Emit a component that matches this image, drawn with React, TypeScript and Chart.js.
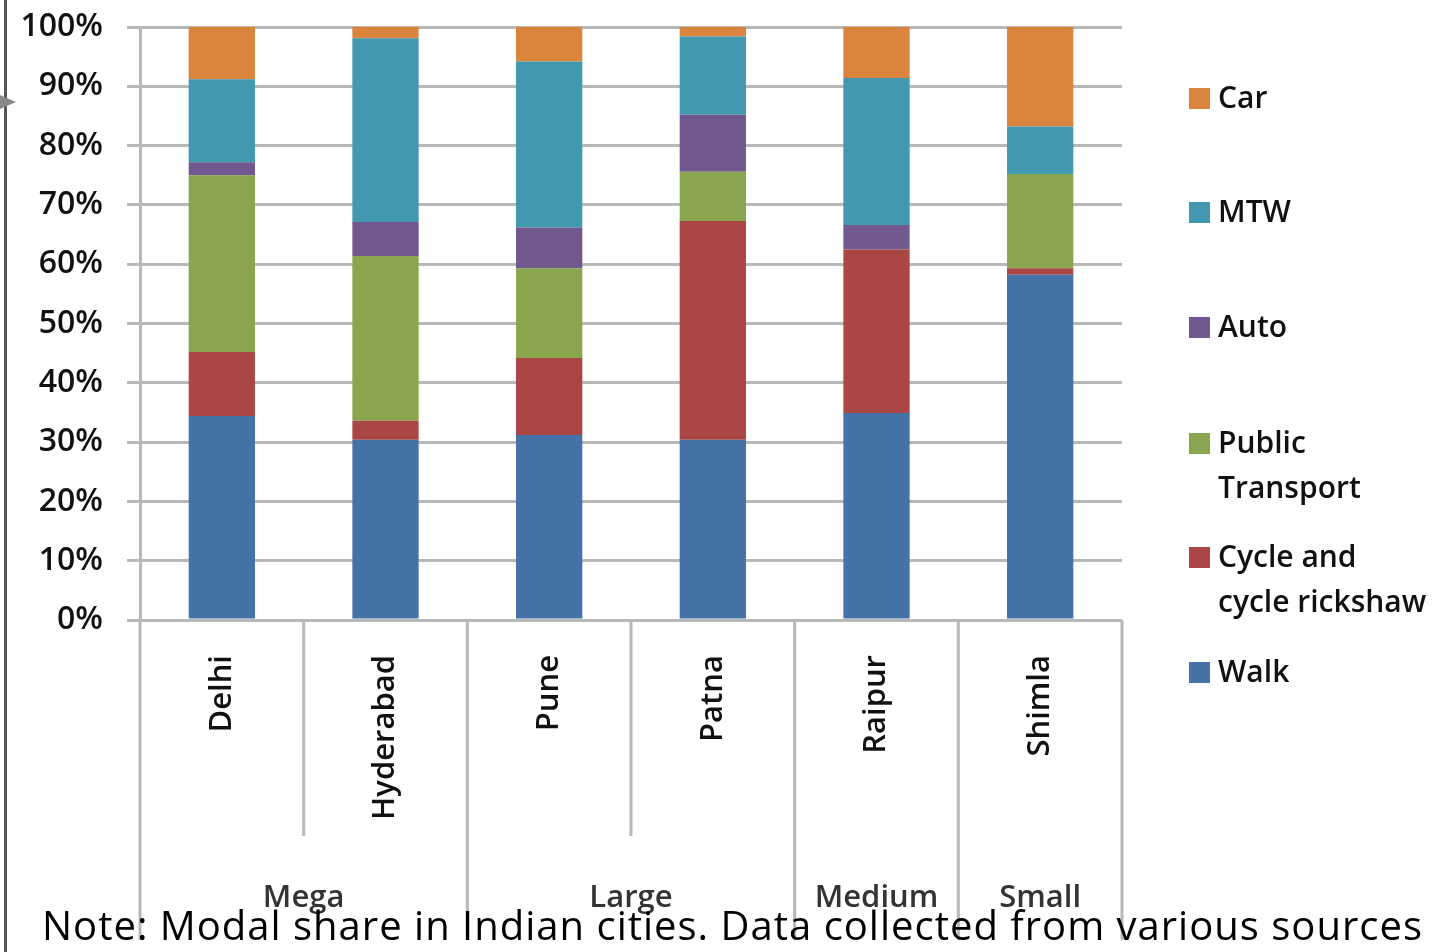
import React, { useEffect, useRef } from 'react';
import { Chart, registerables } from 'chart.js';

Chart.register(...registerables);

// ---- Data ----
const cities = ['Delhi', 'Hyderabad', 'Pune', 'Patna', 'Raipur', 'Shimla'];
const groupLabels = ['Mega', 'Large', 'Medium', 'Small'];
const groupFirstIndex = [0, 2, 4, 5];
const groupLastIndex = [1, 3, 4, 5];

const walk = [34.4, 30.4, 31.2, 30.4, 34.9, 58.2];
const cycle = [10.8, 3.2, 13.0, 36.9, 27.6, 1.1];
const publicTransport = [29.8, 27.8, 15.1, 8.3, 0, 15.9];
const auto = [2.2, 5.7, 6.9, 9.6, 4.1, 0];
const mtw = [14.0, 31.0, 28.0, 13.2, 24.8, 8.0];
const car = [8.8, 1.9, 5.8, 1.6, 8.6, 16.8];

const seriesNames = ['Walk', 'Cycle and cycle rickshaw', 'Public Transport', 'Auto', 'MTW', 'Car'];
const seriesColors = ['#4572A7', '#AA4643', '#89A54E', '#71588F', '#4198AF', '#DB843D'];

const legendItems: { lines: string[]; color: string; center: number }[] = [
  { lines: ['Car'], color: '#DB843D', center: 98 },
  { lines: ['MTW'], color: '#4198AF', center: 212 },
  { lines: ['Auto'], color: '#71588F', center: 327 },
  { lines: ['Public', 'Transport'], color: '#89A54E', center: 443 },
  { lines: ['Cycle and', 'cycle rickshaw'], color: '#AA4643', center: 557 },
  { lines: ['Walk'], color: '#4572A7', center: 672 },
];

const noteText = 'Note: Modal share in Indian cities. Data collected from various sources';

const FONT = "'Open Sans', 'DejaVu Sans', sans-serif";
const GRID = '#b8b8b8';

const groupAxisPlugin = {
  id: 'groupAxis',
  afterDraw(chart: any) {
    const ctx = chart.ctx;
    const x = chart.scales.x;
    const n = cities.length;
    const half = (x.getPixelForValue(1) - x.getPixelForValue(0)) / 2;
    const bottom = chart.chartArea.bottom;
    ctx.save();
    ctx.strokeStyle = GRID;
    ctx.lineWidth = 3;
    for (let i = 0; i <= n; i++) {
      const px = i < n ? x.getPixelForValue(i) - half : x.getPixelForValue(n - 1) + half;
      const edge = groupFirstIndex.includes(i) || i === n;
      ctx.beginPath();
      ctx.moveTo(px, bottom);
      ctx.lineTo(px, edge ? 940 : 836);
      ctx.stroke();
    }
    ctx.fillStyle = '#333';
    ctx.font = `600 31px ${FONT}`;
    ctx.textAlign = 'center';
    ctx.textBaseline = 'alphabetic';
    groupLabels.forEach((g, k) => {
      const cx = (x.getPixelForValue(groupFirstIndex[k]) + x.getPixelForValue(groupLastIndex[k])) / 2;
      ctx.fillText(g, cx, 907);
    });
    ctx.restore();
  },
};

function ChartCanvas() {
  const ref = useRef<HTMLCanvasElement>(null);
  useEffect(() => {
    if (!ref.current) return;
    const values = [walk, cycle, publicTransport, auto, mtw, car];
    const chart = new Chart(ref.current, {
      type: 'bar',
      data: {
        labels: cities,
        datasets: values.map((v, i) => ({
          label: seriesNames[i],
          data: v,
          backgroundColor: seriesColors[i],
          borderWidth: 0,
          categoryPercentage: 1,
          barPercentage: 0.405,
        })),
      },
      options: {
        animation: false,
        responsive: false,
        devicePixelRatio: 1,
        layout: { padding: { top: 27, right: 314, left: 0, bottom: 0 } },
        plugins: { legend: { display: false }, tooltip: { enabled: false } },
        scales: {
          x: {
            stacked: true,
            grid: { display: false, drawTicks: false },
            border: { display: false },
            ticks: {
              autoSkip: false,
              maxRotation: 90,
              minRotation: 90,
              padding: 35,
              color: '#111',
              font: { family: FONT, size: 31, weight: '600' },
            },
            afterFit: (s: any) => {
              s.height = 332;
              s.paddingLeft = 0;
              s.paddingRight = 0;
            },
          },
          y: {
            stacked: true,
            min: 0,
            max: 100,
            ticks: {
              stepSize: 10,
              padding: 24,
              color: '#111',
              font: { family: FONT, size: 32, weight: '600' },
              callback: (v: any) => v + '%',
            },
            grid: { color: GRID, lineWidth: 3, tickLength: 13 },
            border: { color: GRID, width: 3 },
            afterFit: (s: any) => {
              s.width = 140;
              s.paddingTop = 0;
              s.paddingBottom = 0;
            },
          },
        },
      },
      plugins: [groupAxisPlugin],
    });
    return () => chart.destroy();
  }, []);
  return <canvas ref={ref} width={1436} height={952} style={{ position: 'absolute', left: 0, top: 0 }} />;
}

export default function App() {
  return (
    <div style={{ position: 'fixed', left: 0, top: 0, width: 1436, height: 952, background: '#fff', overflow: 'hidden' }}>
      <ChartCanvas />
      <div style={{ position: 'absolute', left: 4, top: 0, width: 3, height: 952, background: '#555' }} />
      <div
        style={{
          position: 'absolute',
          left: 0,
          top: 95,
          width: 0,
          height: 0,
          borderTop: '7px solid transparent',
          borderBottom: '7px solid transparent',
          borderLeft: '16px solid #888',
        }}
      />
      {legendItems.map((item, i) => (
        <div key={i}>
          <div
            style={{
              position: 'absolute',
              left: 1189,
              top: item.center - 10,
              width: 21,
              height: 21,
              background: item.color,
            }}
          />
          {item.lines.map((line, j) => (
            <div
              key={j}
              style={{
                position: 'absolute',
                left: 1218,
                top: item.center - 16 + j * 45,
                fontFamily: FONT,
                fontWeight: 600,
                fontSize: 30,
                lineHeight: '30px',
                color: '#111',
                whiteSpace: 'nowrap',
              }}
            >
              {line}
            </div>
          ))}
        </div>
      ))}
      <div
        style={{
          position: 'absolute',
          left: 42,
          top: 905,
          fontFamily: FONT,
          fontSize: 40,
          lineHeight: '40px',
          letterSpacing: '1px',
          color: '#000',
          whiteSpace: 'nowrap',
        }}
      >
        {noteText}
      </div>
    </div>
  );
}
